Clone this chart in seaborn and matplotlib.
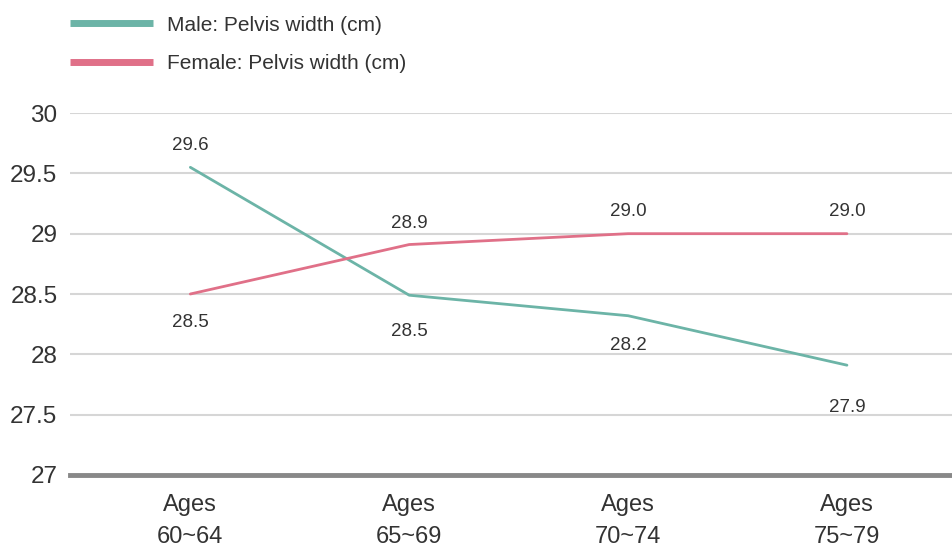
import pandas as pd
import matplotlib.pyplot as plt
import seaborn as sns

ages = ['Ages\n60~64', 'Ages\n65~69', 'Ages\n70~74', 'Ages\n75~79']
male = [29.55, 28.49, 28.32, 27.91]
female = [28.50, 28.91, 29.00, 29.00]
male_labels = ['29.6', '28.5', '28.2', '27.9']
female_labels = ['28.5', '28.9', '29.0', '29.0']
series_names = ['Male: Pelvis width (cm)', 'Female: Pelvis width (cm)']

df = pd.DataFrame({
    'age': list(range(len(ages))) * 2,
    'value': male + female,
    'series': [series_names[0]] * len(ages) + [series_names[1]] * len(ages),
})

sns.set_style('white')
plt.rcParams['font.family'] = ['Liberation Sans', 'DejaVu Sans']

fig = plt.figure(figsize=(9.52, 5.5), dpi=100)
ax = fig.add_axes([0.0735, 0.1364, 0.9265, 0.6581])

palette = {series_names[0]: '#6cb4a7', series_names[1]: '#e07088'}
sns.lineplot(data=df, x='age', y='value', hue='series', palette=palette,
             linewidth=2, ax=ax, legend=False)

ax.set_xlim(-0.55, 3.48)
ax.set_ylim(27, 30)
ax.set_yticks([27, 27.5, 28, 28.5, 29, 29.5, 30])
ax.set_yticklabels(['27', '27.5', '28', '28.5', '29', '29.5', '30'])
ax.set_xticks(range(len(ages)))
ax.set_xticklabels(ages, fontsize=17, color='#333333', linespacing=1.55)
for t in ax.get_yticklabels():
    t.set_fontsize(17.5)
    t.set_color('#333333')
ax.tick_params(axis='x', length=0, pad=14)
ax.tick_params(axis='y', length=0, pad=9)
ax.yaxis.grid(True, color='#d6d6d6', linewidth=1.5)
ax.set_axisbelow(True)
for s in ['top', 'right', 'left']:
    ax.spines[s].set_visible(False)
ax.spines['bottom'].set_color('#888888')
ax.spines['bottom'].set_linewidth(3.5)
ax.set_xlabel('')
ax.set_ylabel('')

# label offsets in pixels (up positive)
male_off = [22, -36, -30, -42]
female_off = [-28, 21, 22, 22]
for i in range(len(ages)):
    ax.annotate(male_labels[i], (i, male[i]), xytext=(0, male_off[i]),
                textcoords='offset pixels', ha='center', va='center',
                fontsize=13.5, color='#333333')
    ax.annotate(female_labels[i], (i, female[i]), xytext=(0, female_off[i]),
                textcoords='offset pixels', ha='center', va='center',
                fontsize=13.5, color='#333333')

handles = [plt.Line2D([], [], color=palette[n], linewidth=5, solid_capstyle='butt')
           for n in series_names]
fig.legend(handles, series_names, loc='upper left', bbox_to_anchor=(0.058, 0.998),
           frameon=False, fontsize=15, handlelength=4.0, handletextpad=0.65,
           labelspacing=0.95, labelcolor='#333333', borderaxespad=0.3)

fig.savefig('out.png', dpi=100)
